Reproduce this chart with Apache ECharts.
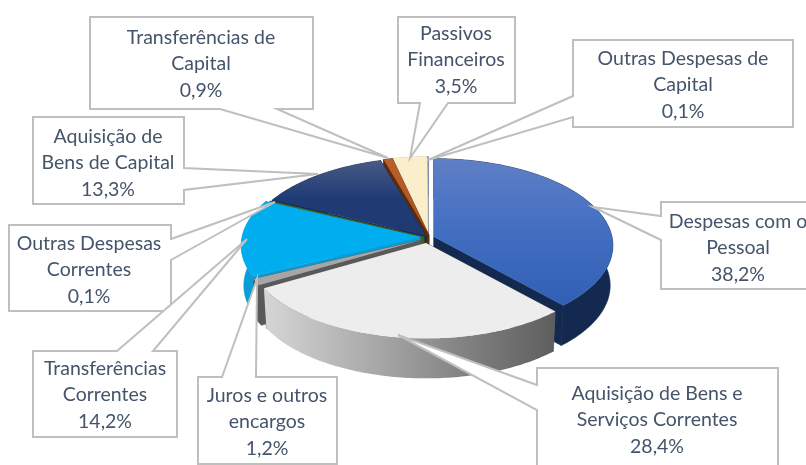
<!DOCTYPE html>
<html>
<head>
<meta charset="utf-8">
<style>html,body{margin:0;padding:0;background:#fff}#c{width:806px;height:465px}</style>
<script src="https://cdn.jsdelivr.net/npm/echarts@6/dist/echarts.min.js"></script>
</head>
<body>
<div id="c"></div>
<script>
const categories = ['Despesas com o\nPessoal','Aquisição de Bens e\nServiços Correntes','Juros e outros\nencargos','Transferências\nCorrentes','Outras Despesas\nCorrentes','Aquisição de\nBens de Capital','Transferências de\nCapital','Passivos\nFinanceiros','Outras Despesas de\nCapital'];
const shares = [38.2,28.4,1.2,14.2,0.1,13.3,0.9,3.5,0.1];

// presentation only
const drawOrder = [8,7,6,5,4,3,2,0,1];
const apex = [[434,237],[426,243],[421,240],[420,237],[424,237],[426,236],[429,235],[428,235],[428,235]];
const topFill = [
  [[0,'#5f7fc6'],[0.45,'#4470c2'],[1,'#305fb4']],
  [[0,'#ededed'],[1,'#ededed']],
  [[0,'#a6a6a6'],[1,'#a6a6a6']],
  [[0,'#00aeef'],[1,'#00aeef']],
  [[0,'#3f6b22'],[1,'#3f6b22']],
  [[0,'#4a5a85'],[0.5,'#1f3b75'],[1,'#1f3a72']],
  [[0,'#b9602f'],[1,'#a9521f']],
  [[0,'#fbeeca'],[1,'#fbeeca']],
  [[0,'#7a8fc0'],[1,'#7a8fc0']]
];
const wallFill = [
  [[0,'#14294f'],[1,'#14294f']],
  [[0,'#d6d6d6'],[0.45,'#a0a0a0'],[0.75,'#7a7a7a'],[1,'#5e5e5e']],
  [[0,'#595959'],[1,'#595959']],
  [[0,'#0a9cd6'],[1,'#0a9cd6']],
  [[0,'#3a5f1e'],[1,'#3a5f1e']],
  [[0,'#15294f'],[1,'#15294f']],
  [[0,'#5c2c0a'],[1,'#5c2c0a']],
  [[0,'#d9c9a0'],[1,'#d9c9a0']],
  [[0,'#3c4f7c'],[1,'#3c4f7c']]
];
const callouts = [
  {box:[661,202,156,87], side:'left',  base:[216,240], tip:[593,207], center:[738,248]},
  {box:[537,368,241,110],side:'left',  base:[385,410], tip:[398,335], center:[657,420]},
  {box:[198,377,139,87], side:'top',   base:[222,256], tip:[257,279], center:[267,422]},
  {box:[33,351,144,86],  side:'top',   base:[117,153], tip:[247,239], center:[105,395]},
  {box:[9,225,162,86],   side:'right', base:[239,260], tip:[275,202], center:[89,270]},
  {box:[33,117,151,87],  side:'right', base:[168,190], tip:[318,174], center:[108,163]},
  {box:[90,17,223,92],   side:'bottom',base:[220,277], tip:[388,158], center:[201,64]},
  {box:[398,17,117,86],  side:'bottom',base:[420,448], tip:[410,158], center:[456,60]},
  {box:[573,40,220,87],  side:'left',  base:[96,117],  tip:[428,160], center:[683,85]}
];

const RX = 178, RY = 86, K = 0.098, DEPTH = 40, SHRINK = 0.985;
const total = shares.reduce((a,b)=>a+b,0);
const starts = []; shares.reduce((acc,v,i)=>{starts[i]=acc; return acc+v;},0);

function project(i, deg, lower) {
  const t = deg*Math.PI/180, u = Math.sin(t), v = -Math.cos(t), s = 1-K*v;
  const s2 = lower ? SHRINK : 1;
  return [apex[i][0] + RX*u/s*s2, apex[i][1] + RY*v/s + (lower?DEPTH:0)];
}
function grad(stops, horizontal) {
  return {type:'linear',x:0,y:0,x2:horizontal?1:0,y2:horizontal?0:1,
    colorStops:stops.map(s=>({offset:s[0],color:s[1]}))};
}
function poly(points, fill, seam) {
  return {type:'polygon',shape:{points},silent:true,
    style:{fill,stroke:seam||null,lineWidth:seam?0.6:0}};
}
function renderSlice(params, api) {
  const i = api.value(0);
  const a0 = starts[i]/total*360, a1 = a0 + api.value(1)/total*360;
  const arc = [], low = [];
  const steps = Math.max(2, Math.ceil(a1-a0));
  for (let k=0;k<=steps;k++){ const d=a0+(a1-a0)*k/steps; arc.push(project(i,d,false)); low.push(project(i,d,true)); }
  const c = apex[i], cLow = [c[0], c[1]+DEPTH];
  const solid = wallFill[i][wallFill[i].length-1][1];
  const dark = i===1 ? '#595959' : solid;
  const solidWall = wallFill[i][0][1]===solid;
  return {type:'group',children:[
    poly([c,cLow,low[steps],arc[steps]], dark, dark),
    poly([c,cLow,low[0],arc[0]], dark, dark),
    poly(arc.concat(low.slice().reverse()), grad(wallFill[i],true), solidWall?solid:null),
    poly([c].concat(arc), grad(topFill[i],false))
  ]};
}
function outline(c) {
  const [x,y,w,h]=c.box, r=x+w, b=y+h, B=c.base, T=c.tip;
  if (c.side==='top') return [[x,y],[B[0],y],T,[B[1],y],[r,y],[r,b],[x,b]];
  if (c.side==='bottom') return [[x,y],[r,y],[r,b],[B[1],b],T,[B[0],b],[x,b]];
  if (c.side==='right') return [[x,y],[r,y],[r,B[0]],T,[r,B[1]],[r,b],[x,b]];
  return [[x,y],[r,y],[r,b],[x,b],[x,B[1]],T,[x,B[0]]];
}
function renderCallout(params, api) {
  const i = api.value(0), c = callouts[i];
  const pct = api.value(1).toFixed(1).replace('.',',')+'%';
  return {type:'group',children:[
    {type:'polygon',shape:{points:outline(c)},silent:true,
     style:{fill:'#fff',stroke:'#bfbfbf',lineWidth:2,lineJoin:'miter'}},
    {type:'text',silent:true,style:{x:c.center[0],y:c.center[1],text:categories[i]+'\n'+pct,
      align:'center',verticalAlign:'middle',fill:'#44546a',
      font:'19.5px Lato',lineHeight:26.5}}
  ]};
}
const chart = echarts.init(document.getElementById('c'),null,{renderer:'canvas'});
chart.setOption({
  animation:false,
  backgroundColor:'#fff',
  xAxis:{show:false},yAxis:{show:false},
  series:[
    {type:'custom',coordinateSystem:'none',renderItem:renderSlice,silent:true,clip:false,
     data:drawOrder.map(i=>[i,shares[i]])},
    {type:'custom',coordinateSystem:'none',renderItem:renderCallout,silent:true,clip:false,z:5,
     data:drawOrder.map(i=>[i,shares[i]])}
  ]
});
</script>
</body>
</html>
